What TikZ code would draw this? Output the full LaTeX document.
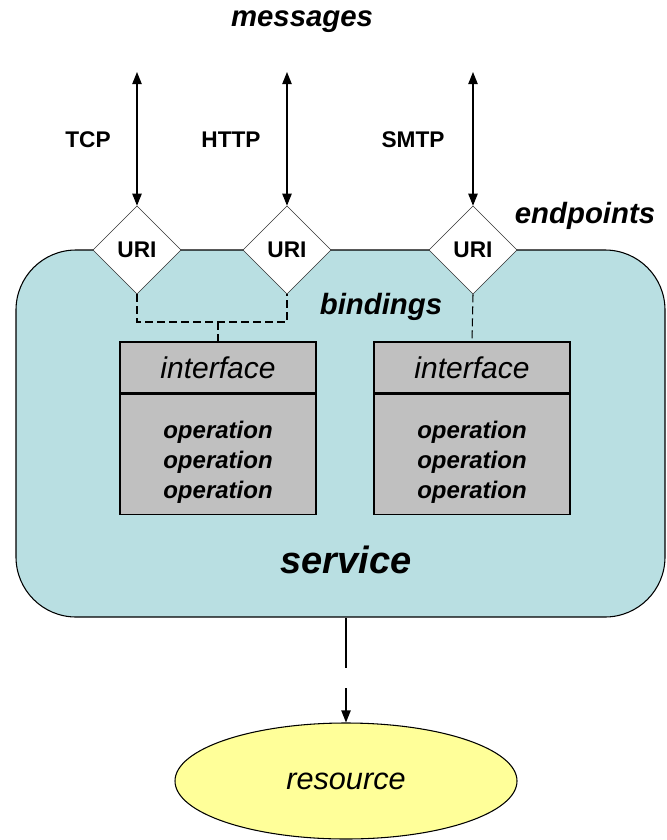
\documentclass[tikz,border=0pt]{standalone}
\usepackage{fontspec}
\setmainfont{Liberation Sans}
\usetikzlibrary{positioning,shapes.geometric,arrows.meta}

\definecolor{servicecol}{RGB}{185,223,226}
\definecolor{ifacegray}{RGB}{192,192,192}
\definecolor{rescol}{RGB}{255,255,153}

\begin{document}
\begin{tikzpicture}[x=0.75pt,y=-0.75pt,
    uri/.style={diamond, draw=black!80, fill=white, minimum width=66pt, minimum height=66pt, inner sep=0pt, font=\fontsize{17}{20}\selectfont\bfseries},
    ifhead/.style={rectangle, draw, thick, fill=ifacegray, minimum width=147pt, minimum height=38.25pt, inner sep=0pt, font=\fontsize{22.5}{26}\selectfont\itshape},
    ifops/.style={rectangle, draw, thick, fill=ifacegray, minimum width=147pt, minimum height=90pt, inner sep=0pt},
    opstext/.style={align=center, font=\fontsize{18}{22.5}\selectfont\bfseries\itshape},
    proto/.style={font=\fontsize{17}{20}\selectfont\bfseries},
    tag/.style={font=\fontsize{22}{26}\selectfont\bfseries\itshape},
    msg/.style={{Triangle[length=9pt,width=7pt]}-{Triangle[length=9pt,width=7pt]}, thick},
    binding/.style={dash pattern=on 6pt off 3pt, thick},
    ]
    \useasboundingbox (0,0) rectangle (667,840);
    % service and resource
    \node[rectangle, rounded corners=45pt, draw, thick, fill=servicecol, minimum width=486.75pt, minimum height=275.25pt] (service) at (340.5,433.5) {};
    \node[ellipse, draw, thick, fill=rescol, minimum width=256.5pt, minimum height=87pt, font=\fontsize{23}{26}\selectfont\itshape] (resource) at (346,781) {resource};
    \node[font=\fontsize{28.5}{32}\selectfont\bfseries\itshape] (servicelbl) at (346,560) {service};
    % endpoints
    \node[uri] (u1) at (137,250) {URI};
    \node[uri] (u2) at (287,250) {URI};
    \node[uri] (u3) at (473,250) {URI};
    % interfaces
    \node[ifhead] (if1) at (218,367.5) {interface};
    \node[ifops]  (ops1) [below=0pt of if1] {};
    \node[opstext] (ops1txt) at ([yshift=-6pt]ops1.center) {operation\\operation\\operation};
    \node[ifhead] (if2) at (472,367.5) {interface};
    \node[ifops]  (ops2) [below=0pt of if2] {};
    \node[opstext] (ops2txt) at ([yshift=-6pt]ops2.center) {operation\\operation\\operation};
    % labels
    \node[tag] (msgs) at (302,22) {messages};
    \node[tag] (endp) at (585,216) {endpoints};
    \node[tag] (bind) at (381,307) {bindings};
    \node[proto] (tcp)  at (88,140)  {TCP};
    \node[proto] (http) at (231,140) {HTTP};
    \node[proto] (smtp) at (413,140) {SMTP};
    % message lines
    \coordinate (m1) at (137,72);
    \coordinate (m2) at (287,72);
    \coordinate (m3) at (473,72);
    \draw[msg] (m1) -- (u1.north);
    \draw[msg] (m2) -- (u2.north);
    \draw[msg] (m3) -- (u3.north);
    % bindings
    \coordinate (bm) at (218,322);
    \draw[binding] (u1.south) -- (u1.south |- bm) -- (u2.south |- bm) -- (u2.south);
    \draw[binding] (bm) -- (if1.north);
    \draw[binding] (u3.south) -- (if2.north);
    % service to resource
    \draw[-{Triangle[length=9pt,width=7pt]}, thick, dash pattern=on 38pt off 15pt] (service.south -| resource.north) -- (resource.north);
\end{tikzpicture}
\end{document}
